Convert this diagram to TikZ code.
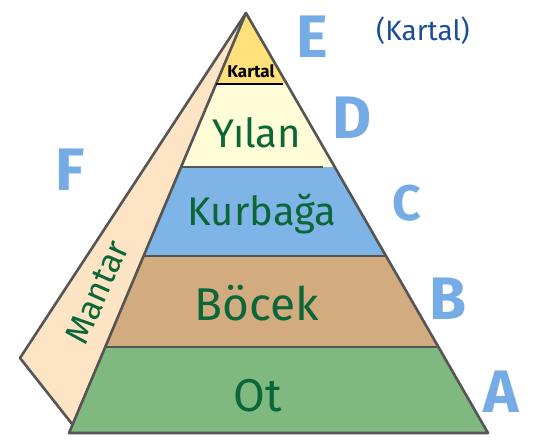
\documentclass[tikz,border=0pt]{standalone}
\usepackage{fontspec}
\setmainfont{Fira Sans}
\usetikzlibrary{calc}
\definecolor{edgegray}{HTML}{555555}
\definecolor{kartalyellow}{HTML}{FFE07A}
\definecolor{yilanyellow}{HTML}{FFFCD8}
\definecolor{kurbagablue}{HTML}{7FB4E6}
\definecolor{bocektan}{HTML}{D2AB7E}
\definecolor{otgreen}{HTML}{7FB97F}
\definecolor{mantarpeach}{HTML}{FDE4C4}
\definecolor{inkgreen}{HTML}{0B6638}
\definecolor{markblue}{HTML}{5E9DE2}
\definecolor{titleblue}{HTML}{1B4C9A}

\tikzset{
  outline/.style={draw=edgegray,line width=2.6pt,line join=round},
  bandline/.style={draw=edgegray,line width=2.4pt},
  levelmark/.style={text=markblue,text opacity=.85,
                    font=\fontsize{60}{60}\selectfont\bfseries},
  handtext/.style={text=inkgreen,font=\fontsize{40}{40}\selectfont}
}

\begin{document}
\begin{tikzpicture}[x=1pt,y=-1pt]
        \useasboundingbox (0,0) rectangle (538,445);
        \coordinate (apex) at (246,13);
        \coordinate (bl) at (69,433);
        \coordinate (br) at (488,433);
        \coordinate (mtip) at (20,358);
        \coordinate (mfoot) at ($(apex)!0.98!(bl)$);
        \foreach \f/\n in {0.169/k,0.367/y,0.579/c,0.795/b}{
          \coordinate (\n-l) at ($(apex)!\f!(bl)$);
          \coordinate (\n-r) at ($(apex)!\f!(br)$);
        }
        \fill[mantarpeach] (apex) -- (mtip) -- (mfoot) -- cycle;
        \fill[kartalyellow] (apex) -- (k-l) -- (k-r) -- cycle;
        \fill[yilanyellow] (k-l) -- (y-l) -- (y-r) -- (k-r) -- cycle;
        \fill[kurbagablue] (y-l) -- (c-l) -- (c-r) -- (y-r) -- cycle;
        \fill[bocektan] (c-l) -- (b-l) -- (b-r) -- (c-r) -- cycle;
        \fill[otgreen] (b-l) -- (bl) -- (br) -- (b-r) -- cycle;
        \draw[outline] (apex) -- (mtip) -- (mfoot);
        \draw[outline] (apex) -- (bl) -- (br) -- cycle;
        \draw[black,line width=2.6pt,shorten >=4pt] (k-l) -- (k-r);
        \draw[bandline,shorten >=12pt] (y-l) -- (y-r);
        \draw[bandline] (c-l) -- (c-r);
        \draw[bandline] (b-l) -- (b-r);

        \node[font=\fontsize{17}{17}\selectfont\bfseries] (kartal) at (251,71) {Kartal};
        \node[handtext] (yilan) at (257,133) {Yılan};
        \node[handtext] (kurbaga) at (262,214) {Kurbağa};
        \node[handtext,font=\fontsize{46}{46}\selectfont] (bocek) at (257,303) {Böcek};
        \node[handtext,font=\fontsize{46}{46}\selectfont] (ot) at (258,396) {Ot};
        \node[handtext,font=\fontsize{34}{34}\selectfont,rotate=66,inner sep=0pt]
             (mantar) at (97,292) {Mantar};

        \node[levelmark] (markE) at (312,37) {E};
        \node[levelmark] (markD) at (352,118) {D};
        \node[levelmark,font=\fontsize{50}{50}\selectfont\bfseries] (markC) at (407,203) {C};
        \node[levelmark] (markB) at (448,299) {B};
        \node[levelmark] (markA) at (501,392) {A};
        \node[levelmark] (markF) at (70,170) {F};
        \node[text=titleblue,font=\fontsize{28}{28}\selectfont] (title) at (423,31) {(Kartal)};
\end{tikzpicture}
\end{document}
